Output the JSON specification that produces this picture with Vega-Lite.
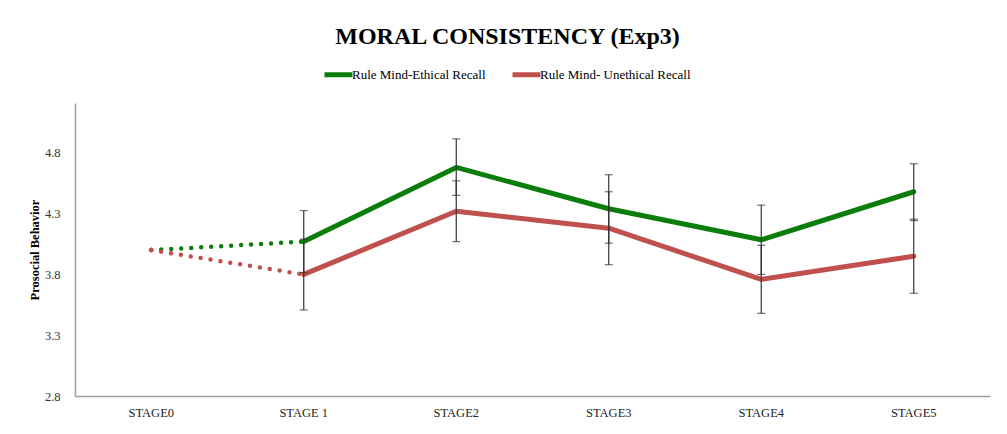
{
  "$schema": "https://vega.github.io/schema/vega-lite/v6.json",
  "width": 915,
  "height": 293,
  "autosize": {"type": "none"},
  "padding": {"left": 75, "top": 103, "right": 17, "bottom": 38},
  "background": "white",
  "title": {
    "text": "MORAL CONSISTENCY (Exp3)",
    "font": "Liberation Serif",
    "fontSize": 24,
    "fontWeight": "bold",
    "color": "#000000",
    "anchor": "middle",
    "dx": -25,
    "offset": 9
  },
  "config": {
    "view": {"stroke": null},
    "font": "Liberation Serif"
  },
  "data": {
    "values": [
      {"stage": "STAGE0", "series": "Rule Mind-Ethical Recall", "value": 4.0, "lo": null, "hi": null},
      {"stage": "STAGE 1", "series": "Rule Mind-Ethical Recall", "value": 4.07, "lo": 3.815, "hi": 4.325},
      {"stage": "STAGE2", "series": "Rule Mind-Ethical Recall", "value": 4.68, "lo": 4.45, "hi": 4.915},
      {"stage": "STAGE3", "series": "Rule Mind-Ethical Recall", "value": 4.34, "lo": 4.057, "hi": 4.62},
      {"stage": "STAGE4", "series": "Rule Mind-Ethical Recall", "value": 4.085, "lo": 3.8, "hi": 4.37},
      {"stage": "STAGE5", "series": "Rule Mind-Ethical Recall", "value": 4.48, "lo": 4.243, "hi": 4.71},
      {"stage": "STAGE0", "series": "Rule Mind- Unethical Recall", "value": 4.0, "lo": null, "hi": null},
      {"stage": "STAGE 1", "series": "Rule Mind- Unethical Recall", "value": 3.8, "lo": 3.508, "hi": 4.09},
      {"stage": "STAGE2", "series": "Rule Mind- Unethical Recall", "value": 4.32, "lo": 4.07, "hi": 4.57},
      {"stage": "STAGE3", "series": "Rule Mind- Unethical Recall", "value": 4.18, "lo": 3.88, "hi": 4.48},
      {"stage": "STAGE4", "series": "Rule Mind- Unethical Recall", "value": 3.76, "lo": 3.48, "hi": 4.04},
      {"stage": "STAGE5", "series": "Rule Mind- Unethical Recall", "value": 3.95, "lo": 3.645, "hi": 4.255}
    ]
  },
  "encoding": {
    "x": {
      "field": "stage",
      "type": "nominal",
      "sort": ["STAGE0", "STAGE 1", "STAGE2", "STAGE3", "STAGE4", "STAGE5"],
      "scale": {"paddingInner": 0, "paddingOuter": 0},
      "axis": {
        "title": null,
        "labelAngle": 0,
        "labelFont": "Liberation Serif",
        "labelFontSize": 12.5,
        "labelColor": "#222222",
        "labelPadding": 10,
        "ticks": false,
        "domainColor": "#a0a0a0",
        "domainWidth": 1.5
      }
    }
  },
  "layer": [
    {
      "transform": [{"filter": "datum.stage !== 'STAGE0'"}],
      "mark": {"type": "line", "strokeWidth": 5, "strokeCap": "round", "strokeJoin": "round"},
      "encoding": {
        "y": {
          "field": "value",
          "type": "quantitative",
          "scale": {"domain": [2.8, 5.21], "nice": false, "zero": false},
          "axis": {
            "values": [2.8, 3.3, 3.8, 4.3, 4.8],
            "format": ".1f",
            "grid": false,
            "ticks": false,
            "labelFont": "Liberation Serif",
            "labelFontSize": 12.5,
            "labelColor": "#333333",
            "labelPadding": 15,
            "domainColor": "#a0a0a0",
            "domainWidth": 1.5,
            "title": "Prosocial Behavior",
            "titleFont": "Liberation Serif",
            "titleFontSize": 12.5,
            "titleFontWeight": "bold",
            "titleColor": "#000000",
            "titlePadding": 3
          }
        },
        "color": {
          "field": "series",
          "type": "nominal",
          "scale": {
            "domain": ["Rule Mind-Ethical Recall", "Rule Mind- Unethical Recall"],
            "range": ["#0b7d0b", "#c0504d"]
          },
          "legend": {
            "title": null,
            "orient": "none",
            "direction": "horizontal",
            "legendX": 247,
            "legendY": -45,
            "symbolType": "stroke",
            "symbolSize": 784,
            "symbolStrokeWidth": 5,
            "labelFont": "Liberation Serif",
            "labelFontSize": 13,
            "labelColor": "#000000",
            "labelOffset": -3,
            "columnPadding": 16,
            "padding": 0
          }
        }
      }
    },
    {
      "transform": [{"filter": "datum.stage === 'STAGE0' || datum.stage === 'STAGE 1'"}],
      "mark": {"type": "line", "strokeWidth": 4.5, "strokeCap": "round", "strokeDash": [0, 10]},
      "encoding": {
        "y": {"field": "value", "type": "quantitative"},
        "color": {"field": "series", "type": "nominal"}
      }
    },
    {
      "transform": [{"filter": "datum.stage === 'STAGE0' && datum.series === 'Rule Mind- Unethical Recall'"}],
      "mark": {"type": "point", "shape": "diamond", "filled": true, "size": 30, "opacity": 1},
      "encoding": {
        "y": {"field": "value", "type": "quantitative"},
        "color": {"field": "series", "type": "nominal"}
      }
    },
    {
      "transform": [{"filter": "datum.lo !== null"}],
      "mark": {"type": "rule", "color": "#333333", "strokeWidth": 1.2},
      "encoding": {
        "y": {"field": "lo", "type": "quantitative"},
        "y2": {"field": "hi"}
      }
    },
    {
      "transform": [{"filter": "datum.lo !== null"}],
      "mark": {"type": "tick", "orient": "horizontal", "color": "#333333", "thickness": 1.2, "size": 8},
      "encoding": {
        "y": {"field": "lo", "type": "quantitative"}
      }
    },
    {
      "transform": [{"filter": "datum.lo !== null"}],
      "mark": {"type": "tick", "orient": "horizontal", "color": "#333333", "thickness": 1.2, "size": 8},
      "encoding": {
        "y": {"field": "hi", "type": "quantitative"}
      }
    }
  ]
}
